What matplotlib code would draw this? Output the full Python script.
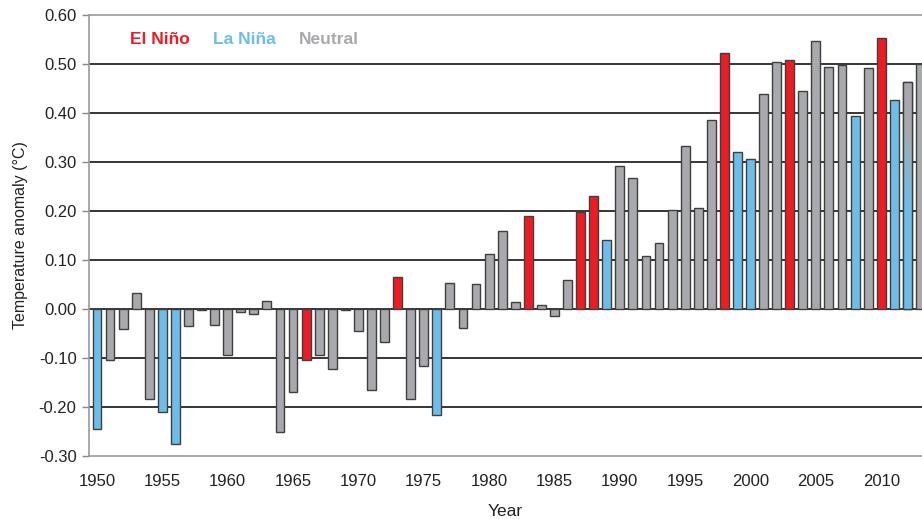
import numpy as np
import matplotlib
matplotlib.use("Agg")
import matplotlib.pyplot as plt
from matplotlib.colors import LinearSegmentedColormap

plt.rcParams['font.family'] = ['Liberation Sans', 'DejaVu Sans']

years = list(range(1950, 2014))
anomalies = [
    -0.245, -0.105, -0.040, 0.032, -0.183, -0.210, -0.275, -0.035, -0.003, -0.032,
    -0.093, -0.006, -0.011, 0.017, -0.250, -0.170, -0.105, -0.093, -0.123, -0.002,
    -0.044, -0.165, -0.067, 0.066, -0.183, -0.116, -0.217, 0.053, -0.038, 0.051,
    0.112, 0.160, 0.015, 0.190, 0.008, -0.014, 0.060, 0.198, 0.230, 0.141,
    0.292, 0.268, 0.109, 0.135, 0.202, 0.332, 0.206, 0.385, 0.523, 0.320,
    0.306, 0.438, 0.504, 0.508, 0.445, 0.547, 0.494, 0.498, 0.394, 0.491,
    0.553, 0.427, 0.463, 0.501,
]
# E = El Niño, L = La Niña, N = Neutral, T = transition (Neutral/La Niña)
phase = list(
    "LNNNNLLNNN"
    "NNNNNNENNN"
    "NNNENNLNNN"
    "NNNENNNEEL"
    "NNNNNNNNEL"
    "LNNENNNNLN"
    "ELTN"
)

colors = {"E": "#ED1C24", "L": "#6EBDE9", "N": "#A7A9AC", "T": "#6EBDE9"}
legend_items = [("El Niño", "#ED1C24"), ("La Niña", "#6EBDE9"), ("Neutral", "#A7A9AC")]
yticks = [0.60, 0.50, 0.40, 0.30, 0.20, 0.10, 0.00, -0.10, -0.20, -0.30]
xticks = list(range(1950, 2011, 5))

fig = plt.figure(figsize=(9.22, 5.19), dpi=100)
ax = fig.add_axes([89 / 922, 1 - 456 / 519, 1 - 89 / 922, (456 - 15) / 519])

# horizontal reference lines behind the bars
for y in yticks[1:-1]:
    ax.axhline(y, color="black", lw=1.1, zorder=1)

bar_w = 0.68
bars = ax.bar(years, anomalies, width=bar_w,
              color=[colors[p] for p in phase],
              edgecolor="#3f3f3f", linewidth=1.0, zorder=3)

# transition years: grey at the top fading into blue towards the base
grad = LinearSegmentedColormap.from_list(
    "trans", [(0.0, "#A7A9AC"), (0.2, "#A7A9AC"), (0.55, "#6EBDE9"), (1.0, "#6EBDE9")])
for b, p in zip(bars, phase):
    if p == "T":
        x0, w, h = b.get_x(), b.get_width(), b.get_height()
        ax.imshow(np.linspace(0, 1, 256).reshape(-1, 1), cmap=grad,
                  extent=[x0, x0 + w, 0, h], aspect="auto",
                  origin="upper", zorder=3.5, interpolation="bilinear")
        ax.bar(x0 + w / 2, h, width=w, facecolor="none",
               edgecolor="#3f3f3f", linewidth=1.0, zorder=4)

ax.set_xlim(1949.39, 2013.12)
ax.set_ylim(-0.30, 0.60)
ax.set_aspect("auto")

ax.set_yticks(yticks)
ax.set_yticklabels([f"{v:.2f}" for v in yticks], fontsize=12, color="#222222")
ax.set_xticks(xticks)
ax.set_xticklabels([str(x) for x in xticks], fontsize=12, color="#222222")
ax.tick_params(axis="x", length=0, pad=13)
ax.tick_params(axis="y", length=5, width=1, color="#888888", pad=4)

for side in ("left", "top", "bottom"):
    ax.spines[side].set_color("#999999")
    ax.spines[side].set_linewidth(1.2)
ax.spines["right"].set_visible(False)

ax.set_ylabel("Temperature anomaly (°C)", fontsize=11.5, color="#222222", labelpad=8)
ax.set_xlabel("Year", fontsize=12.5, color="#222222", labelpad=11)

# colour key
xpos = [0.049, 0.149, 0.252]
for (label, c), xp in zip(legend_items, xpos):
    ax.text(xp, 0.945, label, transform=ax.transAxes, color=c,
            fontsize=12.5, fontweight="bold", va="center", ha="left")

fig.savefig("out.png", dpi=100)
